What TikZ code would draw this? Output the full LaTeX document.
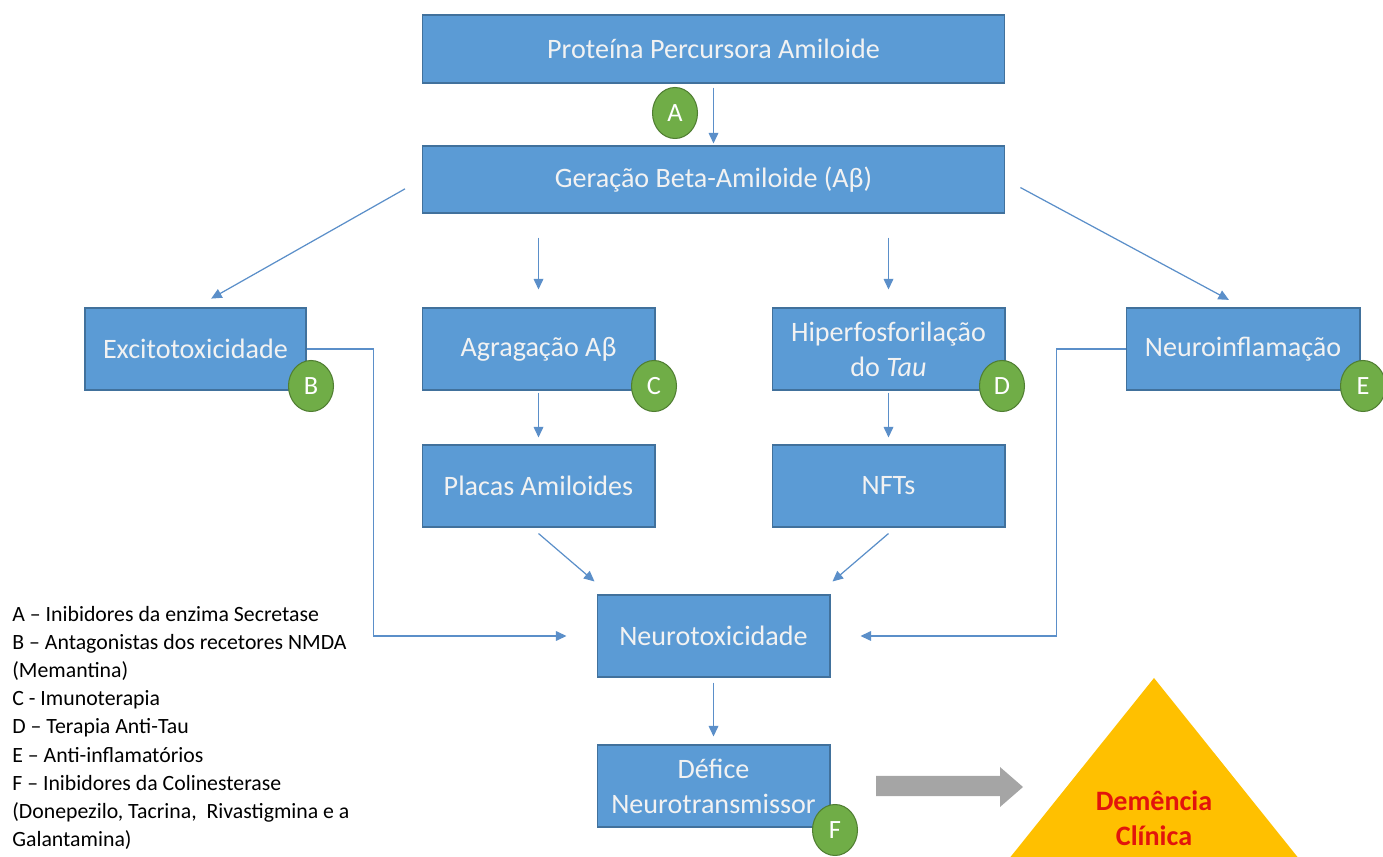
\documentclass[tikz,border=0pt]{standalone}
\usepackage{fontspec}
\setmainfont{Carlito}
\usetikzlibrary{arrows.meta,shapes.geometric}
\definecolor{boxblue}{HTML}{5B9BD5}
\definecolor{boxedge}{HTML}{41719C}
\definecolor{linkblue}{HTML}{5B8FC9}
\definecolor{dotgreen}{HTML}{70AD47}
\definecolor{dotedge}{HTML}{507E32}
\definecolor{demgold}{HTML}{FFC000}
\definecolor{demred}{HTML}{E2140C}
\definecolor{bigarrow}{HTML}{A5A5A5}
\tikzset{
  blk/.style={draw=boxedge,line width=0.6pt,fill=boxblue,text=white!95!black,align=center,
    font=\fontsize{16}{20}\selectfont,minimum width=4.66cm,minimum height=1.64cm,inner sep=2pt},
  lettertag/.style={ellipse,draw=dotedge,line width=0.6pt,fill=dotgreen,text=white,
    minimum width=0.9cm,minimum height=1.02cm,inner sep=0pt,font=\fontsize{15}{15}\selectfont},
  lnk/.style={-{Triangle[length=6pt,width=5.5pt]},linkblue,line width=0.7pt}
}
\begin{document}
\begin{tikzpicture}[x=0.02cm,y=-0.02cm]
    \useasboundingbox (0,0) rectangle (1383,857);
    \clip (0,0) rectangle (1383,857);
    % caixas
    \node[blk,minimum width=11.66cm,minimum height=1.36cm] (prot) at (713.5,49) {Proteína Percursora Amiloide};
    \node[blk,minimum width=11.66cm,minimum height=1.34cm] (gera) at (713.5,179.5) {Geração Beta-Amiloide (Aβ)};
    \node[blk,minimum width=4.42cm] (exci) at (195.5,349) {Excitotoxicidade};
    \node[blk] (agre) at (538.5,349) {Agragação Aβ};
    \node[blk] (hiper) at (888.5,349) {Hiperfosforilação\\do \textit{Tau}};
    \node[blk,minimum width=4.68cm] (neuroi) at (1243,349) {Neuroinflamação};
    \node[blk] (placas) at (538.5,486) {Placas Amiloides};
    \node[blk] (nfts) at (888.5,486) {NFTs};
    \node[blk] (neurot) at (713.5,636) {Neurotoxicidade};
    \node[blk] (defice) at (713.5,786) {Défice\\Neurotransmissor};
    % setas
    \draw[lnk,shorten <=0.08cm,shorten >=0.04cm] (prot.south) -- (gera.north);
    \draw[lnk,shorten <=0.38cm,shorten >=0.36cm] (gera.west) -- (exci.north);
    \draw[lnk,shorten <=0.48cm,shorten >=0.36cm] (gera.south -| agre.north) -- (agre.north);
    \draw[lnk,shorten <=0.48cm,shorten >=0.36cm] (gera.south -| hiper.north) -- (hiper.north);
    \draw[lnk,shorten <=0.34cm,shorten >=0.32cm] (gera.east) -- (neuroi.north);
    \draw[lnk,shorten <=0.04cm,shorten >=0.14cm] (agre.south) -- (placas.north);
    \draw[lnk,shorten <=0.04cm,shorten >=0.14cm] (hiper.south) -- (nfts.north);
    \draw[lnk] ([shift={(0,6)}]placas.south) -- ([shift={(-2,-13)}]neurot.north west);
    \draw[lnk] ([shift={(0,6)}]nfts.south) -- ([shift={(2,-13)}]neurot.north east);
    \draw[lnk,shorten >=0.6cm] (exci.east) -- ++(67,0) |- (neurot.west);
    \draw[lnk,shorten >=0.6cm] (neuroi.west) -- ++(-69,0) |- (neurot.east);
    \draw[lnk,shorten <=0.1cm,shorten >=0.16cm] (neurot.south) -- (defice.north);
    % terapias
    \node[lettertag] (tagA) at (675,113) {A};
    \node[lettertag] (tagB) at (311,386) {B};
    \node[lettertag] (tagC) at (654,386) {C};
    \node[lettertag] (tagD) at (1002,386) {D};
    \node[lettertag] (tagE) at (1363,386) {E};
    \node[lettertag] (tagF) at (835,830) {F};
    % demencia
    \fill[bigarrow] (876,776) -- (1000,776) -- (1000,767) -- (1023,787) -- (1000,807) -- (1000,796) -- (876,796) -- cycle;
    \fill[demgold] (1154,678) -- (1332,900) -- (976,900) -- cycle;
    \node[text=demred,align=center,font=\fontsize{16}{20}\selectfont\bfseries] (dem) at (1154,818) {Demência\\Clínica};
    % legenda
    \node[anchor=north west,inner sep=0pt,align=left,font=\fontsize{12.4}{16}\selectfont] (legenda) at (12,606)
      {A – Inibidores da enzima Secretase\\
       B – Antagonistas dos recetores NMDA\\
       (Memantina)\\
       C - Imunoterapia\\
       D – Terapia Anti-Tau\\
       E – Anti-inflamatórios\\
       F – Inibidores da Colinesterase\\
       (Donepezilo, Tacrina, \ Rivastigmina e a\\
       Galantamina)};
\end{tikzpicture}
\end{document}
